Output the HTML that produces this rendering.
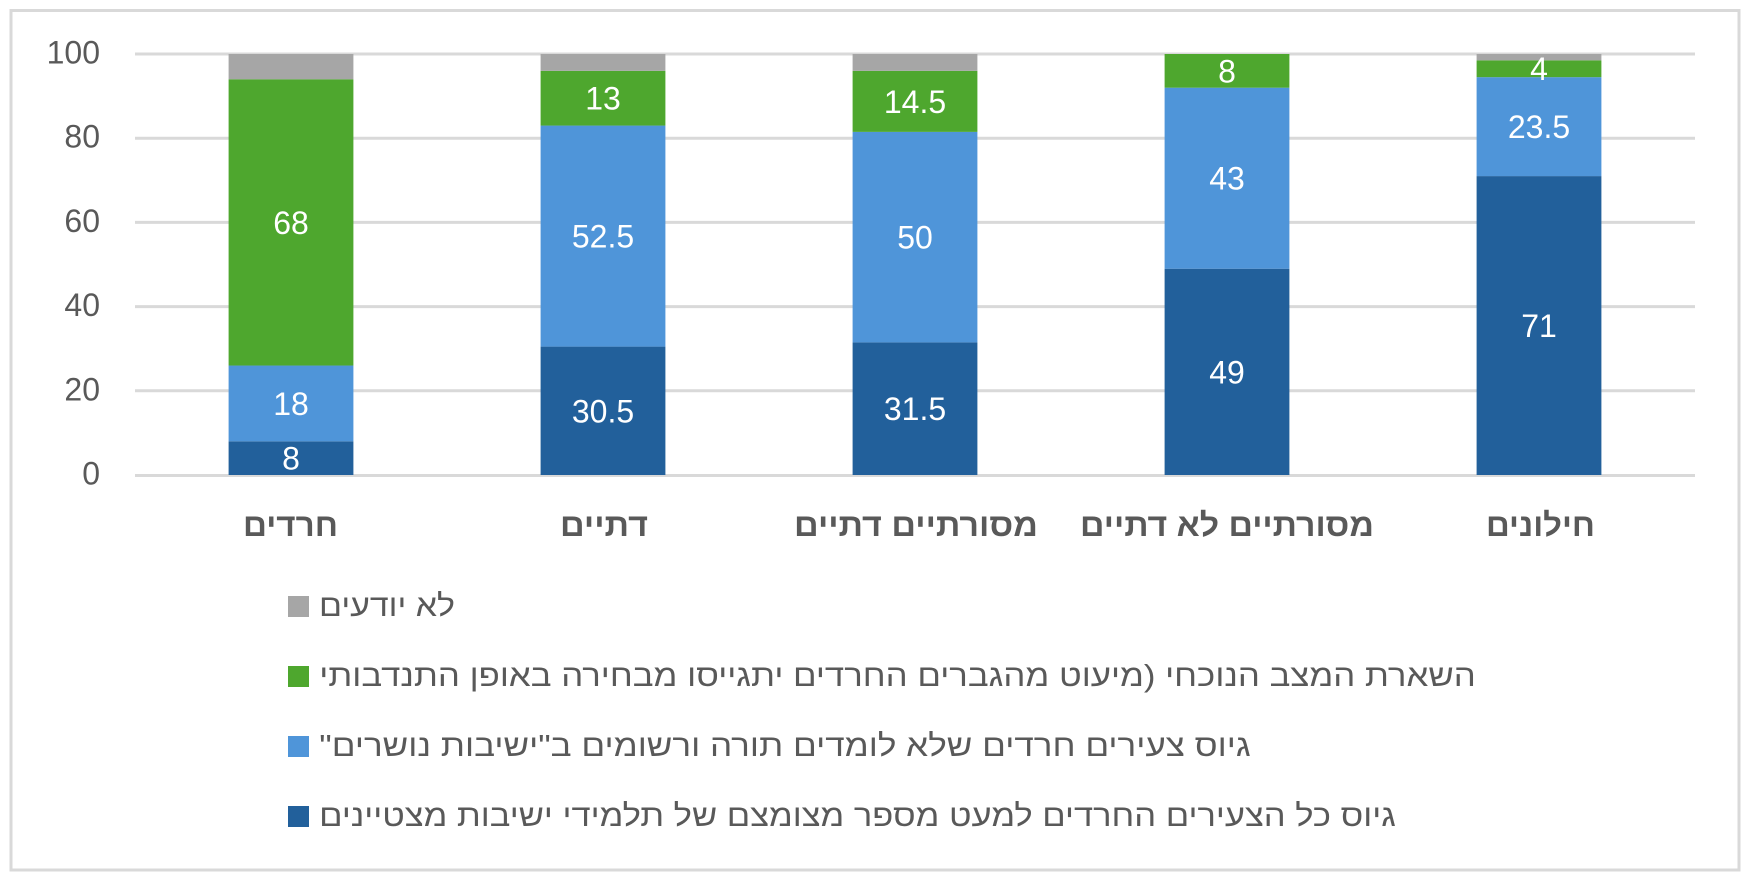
<!DOCTYPE html>
<html>
<head>
<meta charset="utf-8">
<style>
  html, body { margin:0; padding:0; background:#ffffff; }
  body { width:1751px; height:878px; overflow:hidden; }
  svg { display:block; }
  .tick { font-family:"Liberation Sans", "DejaVu Sans", sans-serif; font-size:32px; fill:#595959; }
  .dl { font-family:"Liberation Sans", "DejaVu Sans", sans-serif; font-size:32px; fill:#ffffff; }
  .cat { font-family:"Liberation Sans", "DejaVu Sans", sans-serif; font-size:32px; font-weight:bold; fill:#595959; direction:rtl; unicode-bidi:embed; }
  .leg { font-family:"Liberation Sans", "DejaVu Sans", sans-serif; font-size:30.5px; fill:#595959; direction:rtl; unicode-bidi:embed; }
</style>
</head>
<body>
<svg width="1751" height="878" viewBox="0 0 1751 878" xmlns="http://www.w3.org/2000/svg">
  <rect x="0" y="0" width="1751" height="878" fill="#ffffff"/>
  <!-- chart border -->
  <rect x="11" y="10.5" width="1728" height="859.5" fill="none" stroke="#d9d9d9" stroke-width="3"/>

  <!-- gridlines -->
  <g stroke="#d9d9d9" stroke-width="3">
    <line x1="135" y1="54" x2="1695" y2="54"/>
    <line x1="135" y1="138.2" x2="1695" y2="138.2"/>
    <line x1="135" y1="222.4" x2="1695" y2="222.4"/>
    <line x1="135" y1="306.6" x2="1695" y2="306.6"/>
    <line x1="135" y1="390.8" x2="1695" y2="390.8"/>
    <line x1="135" y1="475.5" x2="1695" y2="475.5"/>
  </g>

  <!-- y tick labels -->
  <g class="tick" text-anchor="end">
    <text x="100" y="63.5">100</text>
    <text x="100" y="147.7">80</text>
    <text x="100" y="231.9">60</text>
    <text x="100" y="316.1">40</text>
    <text x="100" y="400.3">20</text>
    <text x="100" y="484.5">0</text>
  </g>

  <!-- Bar 1 -->
  <rect x="228.6" y="441.32" width="124.8" height="33.68" fill="#22609b"/>
  <rect x="228.6" y="365.54" width="124.8" height="75.78" fill="#4f95d9"/>
  <rect x="228.6" y="79.26" width="124.8" height="286.28" fill="#4ea72e"/>
  <rect x="228.6" y="54" width="124.8" height="25.26" fill="#a6a6a6"/>

  <!-- Bar 2 -->
  <rect x="540.6" y="346.6" width="124.8" height="128.4" fill="#22609b"/>
  <rect x="540.6" y="125.57" width="124.8" height="221.03" fill="#4f95d9"/>
  <rect x="540.6" y="70.84" width="124.8" height="54.73" fill="#4ea72e"/>
  <rect x="540.6" y="54" width="124.8" height="16.84" fill="#a6a6a6"/>

  <!-- Bar 3 -->
  <rect x="852.6" y="342.39" width="124.8" height="132.61" fill="#22609b"/>
  <rect x="852.6" y="131.89" width="124.8" height="210.5" fill="#4f95d9"/>
  <rect x="852.6" y="70.84" width="124.8" height="61.05" fill="#4ea72e"/>
  <rect x="852.6" y="54" width="124.8" height="16.84" fill="#a6a6a6"/>

  <!-- Bar 4 -->
  <rect x="1164.6" y="268.71" width="124.8" height="206.29" fill="#22609b"/>
  <rect x="1164.6" y="87.68" width="124.8" height="181.03" fill="#4f95d9"/>
  <rect x="1164.6" y="54" width="124.8" height="33.68" fill="#4ea72e"/>

  <!-- Bar 5 -->
  <rect x="1476.6" y="176.09" width="124.8" height="298.91" fill="#22609b"/>
  <rect x="1476.6" y="77.16" width="124.8" height="98.93" fill="#4f95d9"/>
  <rect x="1476.6" y="60.32" width="124.8" height="16.84" fill="#4ea72e"/>
  <rect x="1476.6" y="54" width="124.8" height="6.32" fill="#a6a6a6"/>

  <!-- data labels -->
  <g class="dl" text-anchor="middle">
    <text x="291" y="469.7">8</text>
    <text x="291" y="414.9">18</text>
    <text x="291" y="233.9">68</text>

    <text x="603" y="422.3">30.5</text>
    <text x="603" y="247.6">52.5</text>
    <text x="603" y="109.7">13</text>

    <text x="915" y="420.2">31.5</text>
    <text x="915" y="248.6">50</text>
    <text x="915" y="112.9">14.5</text>

    <text x="1227" y="383.4">49</text>
    <text x="1227" y="189.7">43</text>
    <text x="1227" y="82.3">8</text>

    <text x="1539" y="337.0">71</text>
    <text x="1539" y="138.1">23.5</text>
    <text x="1539" y="80.2">4</text>
  </g>

  <!-- category labels -->
  <g text-anchor="middle">
    <text id="c0" class="cat" x="290.5" y="536">חרדים</text>
    <text id="c1" class="cat" x="604" y="536">דתיים</text>
    <text id="c2" class="cat" x="916" y="536">מסורתיים דתיים</text>
    <text id="c3" class="cat" x="1227" y="536">מסורתיים לא דתיים</text>
    <text id="c4" class="cat" x="1540.5" y="536">חילונים</text>
  </g>

  <!-- legend -->
  <rect x="288" y="596" width="21" height="21" fill="#a6a6a6"/>
  <rect x="288" y="666" width="21" height="21" fill="#4ea72e"/>
  <rect x="288" y="736" width="21" height="21" fill="#4f95d9"/>
  <rect x="288" y="806" width="21" height="21" fill="#22609b"/>
  <g text-anchor="middle">
    <text id="l0" class="leg" x="387" y="616">לא יודעים</text>
    <text id="l1" class="leg" x="897.5" y="686">השארת המצב הנוכחי (מיעוט מהגברים החרדים יתגייסו מבחירה באופן התנדבותי</text>
    <text id="l2" class="leg" x="785" y="756">גיוס צעירים חרדים שלא לומדים תורה ורשומים ב"ישיבות נושרים"</text>
    <text id="l3" class="leg" x="857.5" y="826">גיוס כל הצעירים החרדים למעט מספר מצומצם של תלמידי ישיבות מצטיינים</text>
  </g>
</svg>
<script>
(function(){
  var fits = [
    ["c0", 95], ["c1", 88], ["c2", 244], ["c3", 294], ["c4", 109],
    ["l0", 136], ["l1", 1157], ["l2", 932], ["l3", 1077]
  ];
  for (var i = 0; i < fits.length; i++) {
    var el = document.getElementById(fits[i][0]);
    if (!el) continue;
    var w;
    try { w = el.getBBox().width; } catch (e) { w = 0; }
    if (!w || w <= 0) continue;
    var s = fits[i][1] / w;
    if (s < 0.6 || s > 1.6) continue;
    var cx = parseFloat(el.getAttribute("x"));
    el.setAttribute("transform", "translate(" + cx + ",0) scale(" + s.toFixed(4) + ",1) translate(" + (-cx) + ",0)");
  }
})();
</script>
</body>
</html>
